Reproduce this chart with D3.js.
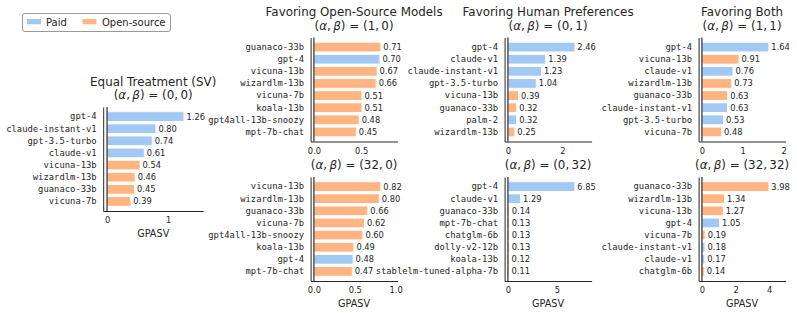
<!DOCTYPE html>
<html><head><meta charset="utf-8">
<script src="https://cdn.jsdelivr.net/npm/d3@7"></script>
<style>
body{margin:0;background:#fff}
svg text{font-family:"DejaVu Sans",sans-serif;fill:#262626}
</style>
</head><body>
<svg id="chart" width="797" height="313"></svg>
<script>
// ---------- data ----------
const legendLabels = ["Paid", "Open-source"];
const colorPaid = "#a1c9f4", colorOpen = "#ffb482";

// (alpha, beta) = (0,0)  Equal Treatment (SV)
const cats00  = ["gpt-4","claude-instant-v1","gpt-3.5-turbo","claude-v1","vicuna-13b","wizardlm-13b","guanaco-33b","vicuna-7b"];
const vals00  = [1.26,0.80,0.74,0.61,0.54,0.46,0.45,0.39];
const types00 = ["P","P","P","P","O","O","O","O"];
const ticks00 = [0,1];
const tickLabels00 = ["0","1"];

// (1,0) Favoring Open-Source Models
const cats10  = ["guanaco-33b","gpt-4","vicuna-13b","wizardlm-13b","vicuna-7b","koala-13b","gpt4all-13b-snoozy","mpt-7b-chat"];
const vals10  = [0.71,0.70,0.67,0.66,0.51,0.51,0.48,0.45];
const types10 = ["O","P","O","O","O","O","O","O"];
const ticks10 = [0,0.5];
const tickLabels10 = ["0.0","0.5"];

// (32,0)
const cats320  = ["vicuna-13b","wizardlm-13b","guanaco-33b","vicuna-7b","gpt4all-13b-snoozy","koala-13b","gpt-4","mpt-7b-chat"];
const vals320  = [0.82,0.80,0.66,0.62,0.60,0.49,0.48,0.47];
const types320 = ["O","O","O","O","O","O","P","O"];
const ticks320 = [0,0.5,1.0];
const tickLabels320 = ["0.0","0.5","1.0"];

// (0,1) Favoring Human Preferences
const cats01  = ["gpt-4","claude-v1","claude-instant-v1","gpt-3.5-turbo","vicuna-13b","guanaco-33b","palm-2","wizardlm-13b"];
const vals01  = [2.46,1.39,1.23,1.04,0.39,0.32,0.32,0.25];
const types01 = ["P","P","P","P","O","O","P","O"];
const ticks01 = [0,2];
const tickLabels01 = ["0","2"];

// (0,32)
const cats032  = ["gpt-4","claude-v1","guanaco-33b","mpt-7b-chat","chatglm-6b","dolly-v2-12b","koala-13b","stablelm-tuned-alpha-7b"];
const vals032  = [6.85,1.29,0.14,0.13,0.13,0.13,0.12,0.11];
const types032 = ["P","P","O","O","O","O","O","O"];
const ticks032 = [0,5];
const tickLabels032 = ["0","5"];

// (1,1) Favoring Both
const cats11  = ["gpt-4","vicuna-13b","claude-v1","wizardlm-13b","guanaco-33b","claude-instant-v1","gpt-3.5-turbo","vicuna-7b"];
const vals11  = [1.64,0.91,0.76,0.73,0.63,0.63,0.53,0.48];
const types11 = ["P","O","P","O","O","P","P","O"];
const ticks11 = [0,1,2];
const tickLabels11 = ["0","1","2"];

// (32,32)
const cats3232  = ["guanaco-33b","wizardlm-13b","vicuna-13b","gpt-4","vicuna-7b","claude-instant-v1","claude-v1","chatglm-6b"];
const vals3232  = [3.98,1.34,1.27,1.05,0.19,0.18,0.17,0.14];
const types3232 = ["O","O","O","P","O","P","P","O"];
const ticks3232 = [0,2,4];
const tickLabels3232 = ["0","2","4"];

const xLabel = "GPASV";

// ---------- layout ----------
const H = 104;
const panels = [
  {cats:cats00, vals:vals00, types:types00, ticks:ticks00, tl:tickLabels00, title:"Equal Treatment (SV)", ab:["0","0"], x0:103.2, W:100, top:107, xlab:true},
  {cats:cats10, vals:vals10, types:types10, ticks:ticks10, tl:tickLabels10, title:"Favoring Open-Source Models", ab:["1","0"], x0:310.6, W:87, top:37.5, xlab:false},
  {cats:cats320, vals:vals320, types:types320, ticks:ticks320, tl:tickLabels320, title:null, ab:["32","0"], x0:310.6, W:87, top:177, xlab:true},
  {cats:cats01, vals:vals01, types:types01, ticks:ticks01, tl:tickLabels01, title:"Favoring Human Preferences", ab:["0","1"], x0:504.6, W:87, top:37.5, xlab:false},
  {cats:cats032, vals:vals032, types:types032, ticks:ticks032, tl:tickLabels032, title:null, ab:["0","32"], x0:504.6, W:87, top:177, xlab:true},
  {cats:cats11, vals:vals11, types:types11, ticks:ticks11, tl:tickLabels11, title:"Favoring Both", ab:["1","1"], x0:698.6, W:87, top:37.5, xlab:false},
  {cats:cats3232, vals:vals3232, types:types3232, ticks:ticks3232, tl:tickLabels3232, title:null, ab:["32","32"], x0:698.6, W:87, top:177, xlab:true}
];

const svg = d3.select("#chart");
const fmt = d3.format(".2f");

panels.forEach(p => {
  const mx = d3.max(p.vals);
  const x = d3.scaleLinear().domain([-0.05*mx, 1.25*mx]).range([p.x0, p.x0 + p.W]);
  const y = d3.scaleBand().domain(p.cats).range([p.top, p.top + H]).paddingInner(0.2).paddingOuter(0.39);
  const g = svg.append("g");
  const data = p.cats.map((c,i)=>({c, v:p.vals[i], t:p.types[i]}));

  g.selectAll("rect.bar").data(data).join("rect")
    .attr("class","bar")
    .attr("x", x(0)).attr("y", d=>y(d.c))
    .attr("width", d=>x(d.v)-x(0)).attr("height", y.bandwidth())
    .attr("fill", d=>d.t==="P"?colorPaid:colorOpen)
    .attr("stroke","#fff").attr("stroke-width",0.9);

  g.selectAll("text.val").data(data).join("text")
    .attr("class","val")
    .attr("x", d=>x(d.v)+2.5).attr("y", d=>y(d.c)+y.bandwidth()/2)
    .attr("dy","0.36em").style("font-size","8.3px")
    .text(d=>fmt(d.v));

  // axvline at 0
  g.append("line").attr("x1",x(0)).attr("x2",x(0)).attr("y1",p.top).attr("y2",p.top+H)
    .attr("stroke","#000").attr("stroke-width",1);

  // left axis (spine + category labels)
  const ay = g.append("g").attr("transform",`translate(${p.x0},0)`)
    .call(d3.axisLeft(y).tickSize(0).tickPadding(6.5));
  ay.select(".domain").attr("stroke","#262626").attr("stroke-width",1);
  ay.selectAll("text").style("font-family","'DejaVu Sans Mono',monospace").style("font-size","8.85px").attr("fill","#262626");

  // bottom axis
  const ax = g.append("g").attr("transform",`translate(0,${p.top+H})`)
    .call(d3.axisBottom(x).tickValues(p.ticks).tickFormat((d,i)=>p.tl[i]).tickSize(0).tickPadding(6.5));
  ax.select(".domain").attr("stroke","#262626").attr("stroke-width",1);
  ax.selectAll("text").style("font-family","'DejaVu Sans',sans-serif").style("font-size","8.3px").attr("fill","#262626");

  const cx = p.x0 + p.W/2;
  if (p.xlab) {
    g.append("text").attr("x",cx).attr("y",p.top+H+25.5).attr("text-anchor","middle")
      .style("font-size","9.7px").text(xLabel);
  }
  // titles
  const abT = g.append("text").attr("x",cx).attr("y",p.top-12).attr("dy","0.36em")
    .attr("text-anchor","middle").style("font-size","11.9px");
  abT.append("tspan").text("(");
  abT.append("tspan").style("font-style","italic").text("α");
  abT.append("tspan").text(",\u2009");
  abT.append("tspan").style("font-style","italic").text("β");
  abT.append("tspan").text(`) = (${p.ab[0]},\u2009${p.ab[1]})`);
  if (p.title) {
    g.append("text").attr("x",cx).attr("y",p.top-25.5).attr("dy","0.36em")
      .attr("text-anchor","middle").style("font-size","11.9px").text(p.title);
  }
});

// legend
const lg = svg.append("g");
lg.append("rect").attr("x",22.5).attr("y",13.5).attr("width",148).attr("height",18).attr("rx",2.5)
  .attr("fill","#fff").attr("stroke","#999").attr("stroke-width",1);
const lgItems = [{l:legendLabels[0], c:colorPaid, px:27, tx:46},{l:legendLabels[1], c:colorOpen, px:82.5, tx:102}];
lgItems.forEach(it=>{
  lg.append("rect").attr("x",it.px).attr("y",19).attr("width",14).attr("height",5.3).attr("fill",it.c);
  lg.append("text").attr("x",it.tx).attr("y",22).attr("dy","0.36em").style("font-size","10px").text(it.l);
});
</script>
</body></html>
